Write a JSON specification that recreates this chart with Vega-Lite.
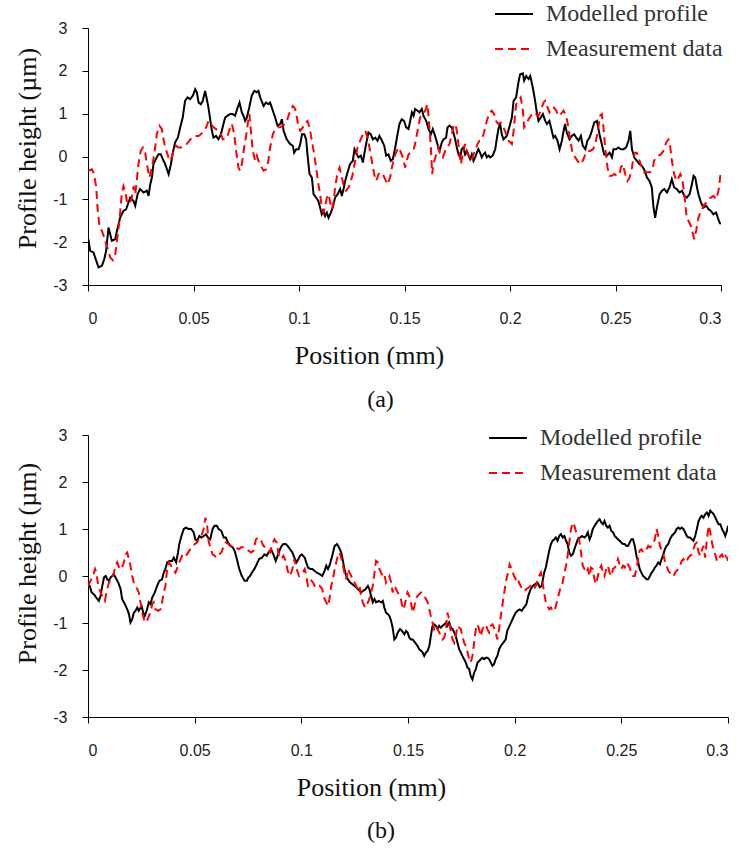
{
  "$schema": "https://vega.github.io/schema/vega-lite/v6.json",
  "padding": {"left": 14, "top": -6, "right": 5, "bottom": 5},
  "config": {
    "view": {"stroke": null},
    "axis": {"grid": false, "domainColor": "#000", "tickColor": "#000", "domainWidth": 1, "tickWidth": 1, "tickSize": 6,
      "labelFont": "Liberation Sans", "labelFontSize": 16, "labelColor": "#222",
      "titleFont": "Liberation Serif", "titleFontSize": 26, "titleFontWeight": "normal", "titleColor": "#111"},
    "legend": {"labelLimit": 0},
    "title": {"font": "Liberation Serif", "fontSize": 24, "fontWeight": "normal", "color": "#111"}
  },
  "spacing": 6,
  "datasets": {
    "aM": [{"x":0.0002,"y":-1.93},{"x":0.001,"y":-2.2},{"x":0.0026,"y":-2.24},{"x":0.0034,"y":-2.36},{"x":0.005,"y":-2.59},{"x":0.0066,"y":-2.55},{"x":0.0077,"y":-2.4},{"x":0.0086,"y":-2.2},{"x":0.0097,"y":-1.66},{"x":0.0105,"y":-1.81},{"x":0.0113,"y":-1.97},{"x":0.0129,"y":-1.93},{"x":0.0137,"y":-1.74},{"x":0.0152,"y":-1.43},{"x":0.0168,"y":-1.27},{"x":0.0181,"y":-1.23},{"x":0.0192,"y":-1.07},{"x":0.02,"y":-0.96},{"x":0.0216,"y":-1.04},{"x":0.0224,"y":-1.15},{"x":0.0235,"y":-0.88},{"x":0.0247,"y":-0.76},{"x":0.0263,"y":-0.84},{"x":0.0279,"y":-0.8},{"x":0.0287,"y":-0.92},{"x":0.0295,"y":-0.65},{"x":0.0303,"y":-0.49},{"x":0.031,"y":-0.18},{"x":0.0318,"y":-0.1},{"x":0.0326,"y":-0.02},{"x":0.0334,"y":0.05},{"x":0.0345,"y":0.05},{"x":0.0358,"y":-0.1},{"x":0.0366,"y":-0.18},{"x":0.0382,"y":-0.41},{"x":0.0393,"y":-0.18},{"x":0.0402,"y":0.09},{"x":0.0413,"y":0.33},{"x":0.0426,"y":0.44},{"x":0.0437,"y":0.68},{"x":0.0449,"y":0.91},{"x":0.046,"y":1.3},{"x":0.0472,"y":1.38},{"x":0.0484,"y":1.34},{"x":0.0497,"y":1.42},{"x":0.0508,"y":1.57},{"x":0.0516,"y":1.5},{"x":0.0524,"y":1.26},{"x":0.0535,"y":1.22},{"x":0.0544,"y":1.3},{"x":0.0555,"y":1.53},{"x":0.0563,"y":1.34},{"x":0.0571,"y":1.14},{"x":0.0587,"y":0.6},{"x":0.0595,"y":0.44},{"x":0.0607,"y":0.48},{"x":0.0618,"y":0.4},{"x":0.063,"y":0.52},{"x":0.0642,"y":0.76},{"x":0.065,"y":0.91},{"x":0.0661,"y":0.95},{"x":0.0674,"y":0.99},{"x":0.0686,"y":0.99},{"x":0.0697,"y":0.95},{"x":0.0709,"y":1.14},{"x":0.0718,"y":1.26},{"x":0.0729,"y":1.03},{"x":0.0737,"y":0.95},{"x":0.0745,"y":0.83},{"x":0.0753,"y":0.91},{"x":0.0764,"y":1.14},{"x":0.0776,"y":1.42},{"x":0.0788,"y":1.53},{"x":0.08,"y":1.5},{"x":0.0808,"y":1.53},{"x":0.0816,"y":1.38},{"x":0.0832,"y":1.18},{"x":0.0844,"y":1.26},{"x":0.0855,"y":1.22},{"x":0.0863,"y":1.26},{"x":0.0876,"y":1.07},{"x":0.0887,"y":0.91},{"x":0.0898,"y":0.72},{"x":0.0911,"y":0.76},{"x":0.0919,"y":0.87},{"x":0.0927,"y":0.6},{"x":0.0942,"y":0.4},{"x":0.0958,"y":0.29},{"x":0.0971,"y":0.25},{"x":0.0977,"y":0.09},{"x":0.0987,"y":0.17},{"x":0.0998,"y":0.17},{"x":0.1006,"y":0.29},{"x":0.1014,"y":0.52},{"x":0.1025,"y":0.52},{"x":0.1034,"y":0.4},{"x":0.104,"y":0.05},{"x":0.105,"y":-0.41},{"x":0.1061,"y":-0.49},{"x":0.1069,"y":-0.88},{"x":0.1081,"y":-0.96},{"x":0.1092,"y":-1.04},{"x":0.11,"y":-1.19},{"x":0.1108,"y":-1.35},{"x":0.1116,"y":-1.27},{"x":0.1124,"y":-1.39},{"x":0.1132,"y":-1.31},{"x":0.114,"y":-1.43},{"x":0.1151,"y":-1.31},{"x":0.116,"y":-1.19},{"x":0.1171,"y":-0.96},{"x":0.1183,"y":-0.88},{"x":0.1195,"y":-0.76},{"x":0.1203,"y":-0.92},{"x":0.1211,"y":-0.76},{"x":0.1219,"y":-0.57},{"x":0.123,"y":-0.37},{"x":0.1242,"y":-0.18},{"x":0.1255,"y":-0.1},{"x":0.1263,"y":0.17},{"x":0.1274,"y":0.05},{"x":0.1282,"y":-0.02},{"x":0.1293,"y":0.02},{"x":0.1303,"y":-0.14},{"x":0.1309,"y":0.05},{"x":0.1318,"y":0.29},{"x":0.1329,"y":0.56},{"x":0.134,"y":0.52},{"x":0.135,"y":0.4},{"x":0.1361,"y":0.44},{"x":0.1372,"y":0.37},{"x":0.1381,"y":0.48},{"x":0.1393,"y":0.37},{"x":0.1404,"y":0.25},{"x":0.1413,"y":0.02},{"x":0.1424,"y":0.05},{"x":0.1435,"y":-0.1},{"x":0.1445,"y":-0.06},{"x":0.1456,"y":0.21},{"x":0.1467,"y":0.52},{"x":0.1476,"y":0.76},{"x":0.1487,"y":0.87},{"x":0.1498,"y":0.83},{"x":0.1508,"y":0.68},{"x":0.1519,"y":0.64},{"x":0.1527,"y":0.83},{"x":0.1535,"y":1.03},{"x":0.1543,"y":0.95},{"x":0.155,"y":1.11},{"x":0.1562,"y":1.07},{"x":0.1571,"y":1.03},{"x":0.1582,"y":1.11},{"x":0.159,"y":0.95},{"x":0.1603,"y":0.83},{"x":0.1614,"y":0.64},{"x":0.1625,"y":0.52},{"x":0.1634,"y":0.64},{"x":0.1645,"y":0.48},{"x":0.1656,"y":0.29},{"x":0.1666,"y":0.13},{"x":0.1677,"y":0.33},{"x":0.1685,"y":0.4},{"x":0.1697,"y":0.44},{"x":0.1704,"y":0.68},{"x":0.1713,"y":0.72},{"x":0.1724,"y":0.68},{"x":0.1732,"y":0.56},{"x":0.174,"y":0.4},{"x":0.1748,"y":0.21},{"x":0.1756,"y":0.05},{"x":0.1764,"y":-0.02},{"x":0.1771,"y":0.17},{"x":0.1779,"y":0.21},{"x":0.1787,"y":0.05},{"x":0.1795,"y":0.13},{"x":0.1803,"y":0.02},{"x":0.1811,"y":-0.06},{"x":0.1819,"y":0.05},{"x":0.1827,"y":-0.1},{"x":0.1835,"y":-0.02},{"x":0.1843,"y":0.09},{"x":0.185,"y":0.17},{"x":0.1858,"y":0.09},{"x":0.1866,"y":-0.02},{"x":0.1874,"y":0.05},{"x":0.1882,"y":0.09},{"x":0.189,"y":-0.02},{"x":0.1898,"y":0.02},{"x":0.1906,"y":-0.02},{"x":0.1918,"y":0.02},{"x":0.193,"y":0.17},{"x":0.1937,"y":0.4},{"x":0.1945,"y":0.64},{"x":0.1953,"y":0.76},{"x":0.1961,"y":0.52},{"x":0.1969,"y":0.4},{"x":0.1985,"y":0.48},{"x":0.2001,"y":0.76},{"x":0.2009,"y":0.91},{"x":0.2017,"y":1.3},{"x":0.2029,"y":1.38},{"x":0.204,"y":1.73},{"x":0.2048,"y":1.92},{"x":0.2061,"y":1.94},{"x":0.2067,"y":1.77},{"x":0.2077,"y":1.88},{"x":0.2088,"y":1.81},{"x":0.2096,"y":1.88},{"x":0.2108,"y":1.61},{"x":0.2119,"y":1.3},{"x":0.2127,"y":1.03},{"x":0.2135,"y":0.83},{"x":0.2146,"y":0.91},{"x":0.2156,"y":0.99},{"x":0.2167,"y":0.83},{"x":0.2175,"y":0.76},{"x":0.2187,"y":0.83},{"x":0.2198,"y":0.6},{"x":0.2206,"y":0.44},{"x":0.2214,"y":0.48},{"x":0.2225,"y":0.37},{"x":0.2235,"y":0.17},{"x":0.2246,"y":0.37},{"x":0.2254,"y":0.6},{"x":0.2261,"y":0.76},{"x":0.2269,"y":0.56},{"x":0.2282,"y":0.4},{"x":0.2293,"y":0.48},{"x":0.2304,"y":0.52},{"x":0.2314,"y":0.44},{"x":0.2325,"y":0.37},{"x":0.2336,"y":0.48},{"x":0.2345,"y":0.25},{"x":0.2357,"y":0.17},{"x":0.2367,"y":0.37},{"x":0.2377,"y":0.44},{"x":0.2388,"y":0.6},{"x":0.2399,"y":0.79},{"x":0.2412,"y":0.83},{"x":0.2424,"y":0.52},{"x":0.2435,"y":0.29},{"x":0.2446,"y":0.05},{"x":0.2459,"y":0.02},{"x":0.2472,"y":0.09},{"x":0.2483,"y":-0.02},{"x":0.249,"y":0.17},{"x":0.2503,"y":0.17},{"x":0.2514,"y":0.21},{"x":0.2525,"y":0.17},{"x":0.2538,"y":0.17},{"x":0.255,"y":0.21},{"x":0.2562,"y":0.37},{"x":0.257,"y":0.6},{"x":0.2578,"y":0.17},{"x":0.2589,"y":-0.02},{"x":0.2601,"y":-0.1},{"x":0.2614,"y":-0.18},{"x":0.2625,"y":-0.22},{"x":0.2636,"y":-0.3},{"x":0.2649,"y":-0.49},{"x":0.2661,"y":-0.57},{"x":0.2672,"y":-0.72},{"x":0.268,"y":-1.19},{"x":0.2688,"y":-1.43},{"x":0.2696,"y":-1.19},{"x":0.2709,"y":-0.88},{"x":0.272,"y":-0.8},{"x":0.2731,"y":-0.76},{"x":0.2744,"y":-0.84},{"x":0.2756,"y":-0.72},{"x":0.2767,"y":-0.53},{"x":0.2778,"y":-0.72},{"x":0.2791,"y":-0.76},{"x":0.2803,"y":-0.84},{"x":0.2815,"y":-0.8},{"x":0.2826,"y":-0.92},{"x":0.2838,"y":-0.96},{"x":0.2851,"y":-0.88},{"x":0.2862,"y":-0.65},{"x":0.287,"y":-0.45},{"x":0.2878,"y":-0.49},{"x":0.2885,"y":-0.69},{"x":0.2893,"y":-0.88},{"x":0.2905,"y":-1.07},{"x":0.2917,"y":-1.19},{"x":0.293,"y":-1.15},{"x":0.2941,"y":-1.23},{"x":0.2952,"y":-1.27},{"x":0.2964,"y":-1.35},{"x":0.2977,"y":-1.31},{"x":0.2985,"y":-1.43},{"x":0.2993,"y":-1.54},{"x":0.2999,"y":-1.58}],
    "aD": [{"x":0.0002,"y":-0.33},{"x":0.0018,"y":-0.3},{"x":0.0029,"y":-0.41},{"x":0.0039,"y":-0.72},{"x":0.0045,"y":-1.19},{"x":0.0055,"y":-1.66},{"x":0.0066,"y":-1.74},{"x":0.0077,"y":-1.89},{"x":0.0086,"y":-2.05},{"x":0.0097,"y":-2.2},{"x":0.0105,"y":-2.36},{"x":0.0118,"y":-2.42},{"x":0.0129,"y":-2.28},{"x":0.0137,"y":-1.97},{"x":0.0149,"y":-1.5},{"x":0.016,"y":-0.88},{"x":0.0168,"y":-0.69},{"x":0.0176,"y":-0.8},{"x":0.0184,"y":-1.04},{"x":0.0197,"y":-1.11},{"x":0.0208,"y":-0.96},{"x":0.0216,"y":-0.69},{"x":0.0224,"y":-0.88},{"x":0.0231,"y":-0.57},{"x":0.0239,"y":-0.18},{"x":0.025,"y":0.13},{"x":0.026,"y":0.21},{"x":0.0271,"y":0.09},{"x":0.0279,"y":-0.18},{"x":0.0291,"y":-0.49},{"x":0.0303,"y":-0.26},{"x":0.0314,"y":0.05},{"x":0.0326,"y":0.52},{"x":0.0339,"y":0.72},{"x":0.035,"y":0.64},{"x":0.0358,"y":0.4},{"x":0.0366,"y":0.21},{"x":0.0377,"y":0.05},{"x":0.0386,"y":-0.1},{"x":0.0397,"y":-0.02},{"x":0.0405,"y":0.13},{"x":0.0418,"y":0.25},{"x":0.0429,"y":0.21},{"x":0.044,"y":0.21},{"x":0.0453,"y":0.25},{"x":0.0468,"y":0.29},{"x":0.0481,"y":0.37},{"x":0.0492,"y":0.44},{"x":0.0508,"y":0.48},{"x":0.0524,"y":0.48},{"x":0.0535,"y":0.52},{"x":0.0547,"y":0.6},{"x":0.056,"y":0.68},{"x":0.0571,"y":0.83},{"x":0.0582,"y":0.76},{"x":0.0595,"y":0.68},{"x":0.0607,"y":0.64},{"x":0.0618,"y":0.6},{"x":0.063,"y":0.52},{"x":0.0639,"y":0.4},{"x":0.065,"y":0.4},{"x":0.0661,"y":0.48},{"x":0.0674,"y":0.68},{"x":0.0682,"y":0.76},{"x":0.0693,"y":0.52},{"x":0.0702,"y":0.13},{"x":0.0713,"y":-0.26},{"x":0.0721,"y":-0.33},{"x":0.0729,"y":-0.18},{"x":0.074,"y":0.21},{"x":0.0753,"y":0.6},{"x":0.0761,"y":0.91},{"x":0.0765,"y":0.99},{"x":0.0772,"y":0.6},{"x":0.0781,"y":0.13},{"x":0.0792,"y":-0.1},{"x":0.08,"y":0.02},{"x":0.0808,"y":-0.1},{"x":0.0816,"y":-0.18},{"x":0.0824,"y":-0.26},{"x":0.0832,"y":-0.33},{"x":0.0844,"y":-0.3},{"x":0.0855,"y":-0.1},{"x":0.0863,"y":0.21},{"x":0.0876,"y":0.52},{"x":0.0887,"y":0.64},{"x":0.0898,"y":0.68},{"x":0.0911,"y":0.68},{"x":0.0923,"y":0.72},{"x":0.0934,"y":0.76},{"x":0.0945,"y":0.87},{"x":0.0958,"y":1.07},{"x":0.0971,"y":1.18},{"x":0.0982,"y":1.11},{"x":0.099,"y":0.91},{"x":0.0998,"y":0.68},{"x":0.1006,"y":0.6},{"x":0.1018,"y":0.68},{"x":0.1029,"y":0.79},{"x":0.104,"y":0.83},{"x":0.105,"y":0.68},{"x":0.1061,"y":0.37},{"x":0.1072,"y":0.05},{"x":0.1081,"y":-0.26},{"x":0.1092,"y":-0.65},{"x":0.11,"y":-0.88},{"x":0.1108,"y":-1.19},{"x":0.1116,"y":-1.31},{"x":0.1124,"y":-1.15},{"x":0.1132,"y":-0.96},{"x":0.114,"y":-0.88},{"x":0.1148,"y":-1.07},{"x":0.1156,"y":-1.23},{"x":0.1164,"y":-1.07},{"x":0.1171,"y":-0.72},{"x":0.1183,"y":-0.37},{"x":0.1192,"y":-0.26},{"x":0.1203,"y":-0.49},{"x":0.1214,"y":-0.72},{"x":0.1223,"y":-0.8},{"x":0.1235,"y":-0.72},{"x":0.1246,"y":-0.57},{"x":0.1255,"y":-0.41},{"x":0.1266,"y":-0.1},{"x":0.1277,"y":0.21},{"x":0.129,"y":0.37},{"x":0.1303,"y":0.52},{"x":0.1314,"y":0.6},{"x":0.1322,"y":0.48},{"x":0.1334,"y":0.21},{"x":0.1345,"y":-0.1},{"x":0.1356,"y":-0.41},{"x":0.1366,"y":-0.57},{"x":0.1377,"y":-0.41},{"x":0.1388,"y":-0.37},{"x":0.1397,"y":-0.41},{"x":0.1408,"y":-0.53},{"x":0.1419,"y":-0.65},{"x":0.1432,"y":-0.49},{"x":0.144,"y":-0.26},{"x":0.1451,"y":-0.02},{"x":0.146,"y":0.09},{"x":0.1472,"y":0.21},{"x":0.148,"y":0.13},{"x":0.1492,"y":-0.02},{"x":0.1503,"y":-0.26},{"x":0.1511,"y":-0.1},{"x":0.1519,"y":0.05},{"x":0.153,"y":0.09},{"x":0.1543,"y":0.17},{"x":0.155,"y":0.29},{"x":0.1562,"y":0.6},{"x":0.1574,"y":0.91},{"x":0.1587,"y":0.99},{"x":0.1598,"y":1.07},{"x":0.1609,"y":1.22},{"x":0.1618,"y":0.68},{"x":0.1625,"y":0.21},{"x":0.1631,"y":-0.41},{"x":0.1637,"y":-0.18},{"x":0.165,"y":0.05},{"x":0.1661,"y":0.21},{"x":0.1669,"y":0.05},{"x":0.1682,"y":-0.02},{"x":0.1693,"y":0.13},{"x":0.1701,"y":0.21},{"x":0.1713,"y":0.29},{"x":0.1724,"y":0.52},{"x":0.1735,"y":0.76},{"x":0.1745,"y":0.68},{"x":0.1751,"y":0.48},{"x":0.1761,"y":0.05},{"x":0.1767,"y":-0.18},{"x":0.1776,"y":0.05},{"x":0.1787,"y":0.29},{"x":0.1795,"y":0.13},{"x":0.1808,"y":-0.02},{"x":0.1819,"y":-0.1},{"x":0.1827,"y":0.05},{"x":0.184,"y":0.21},{"x":0.1846,"y":0.29},{"x":0.1855,"y":0.37},{"x":0.1866,"y":0.4},{"x":0.1877,"y":0.56},{"x":0.189,"y":0.83},{"x":0.1903,"y":1.03},{"x":0.1914,"y":1.07},{"x":0.1925,"y":0.99},{"x":0.1934,"y":0.83},{"x":0.1945,"y":0.76},{"x":0.1956,"y":0.79},{"x":0.1969,"y":0.68},{"x":0.1982,"y":0.52},{"x":0.1993,"y":0.37},{"x":0.2009,"y":0.29},{"x":0.2017,"y":0.6},{"x":0.2029,"y":1.22},{"x":0.204,"y":1.3},{"x":0.2051,"y":1.38},{"x":0.2061,"y":1.07},{"x":0.2067,"y":0.68},{"x":0.2077,"y":0.76},{"x":0.2088,"y":0.87},{"x":0.2099,"y":0.95},{"x":0.2111,"y":1.03},{"x":0.2124,"y":0.99},{"x":0.2135,"y":0.95},{"x":0.2146,"y":1.07},{"x":0.2159,"y":1.26},{"x":0.2167,"y":1.3},{"x":0.2175,"y":1.18},{"x":0.2187,"y":1.03},{"x":0.2198,"y":1.14},{"x":0.2209,"y":1.14},{"x":0.2219,"y":1.07},{"x":0.223,"y":0.95},{"x":0.2241,"y":0.99},{"x":0.2254,"y":1.07},{"x":0.2266,"y":0.95},{"x":0.2277,"y":0.68},{"x":0.2285,"y":0.37},{"x":0.2298,"y":0.05},{"x":0.2309,"y":-0.02},{"x":0.232,"y":-0.1},{"x":0.2333,"y":-0.18},{"x":0.2345,"y":-0.1},{"x":0.2357,"y":0.05},{"x":0.2367,"y":0.13},{"x":0.238,"y":0.13},{"x":0.2393,"y":0.17},{"x":0.2404,"y":0.29},{"x":0.2415,"y":0.56},{"x":0.2427,"y":0.95},{"x":0.2435,"y":0.99},{"x":0.2443,"y":0.68},{"x":0.2451,"y":0.21},{"x":0.2462,"y":-0.26},{"x":0.2472,"y":-0.45},{"x":0.2483,"y":-0.45},{"x":0.2494,"y":-0.41},{"x":0.2506,"y":-0.45},{"x":0.2519,"y":-0.41},{"x":0.2525,"y":-0.26},{"x":0.2535,"y":-0.18},{"x":0.2546,"y":-0.41},{"x":0.2557,"y":-0.57},{"x":0.2567,"y":-0.49},{"x":0.2578,"y":-0.26},{"x":0.2585,"y":-0.02},{"x":0.2593,"y":0.09},{"x":0.2601,"y":0.09},{"x":0.2614,"y":-0.1},{"x":0.2625,"y":-0.26},{"x":0.2636,"y":-0.37},{"x":0.2649,"y":-0.37},{"x":0.2664,"y":-0.37},{"x":0.2677,"y":-0.26},{"x":0.2683,"y":-0.1},{"x":0.2693,"y":-0.02},{"x":0.2704,"y":0.02},{"x":0.2715,"y":0.05},{"x":0.2727,"y":0.13},{"x":0.274,"y":0.33},{"x":0.2751,"y":0.4},{"x":0.2759,"y":0.25},{"x":0.2767,"y":-0.1},{"x":0.2778,"y":-0.41},{"x":0.2788,"y":-0.57},{"x":0.2799,"y":-0.49},{"x":0.2807,"y":-0.41},{"x":0.2815,"y":-0.49},{"x":0.2823,"y":-0.76},{"x":0.2831,"y":-1.11},{"x":0.2838,"y":-1.46},{"x":0.2846,"y":-1.5},{"x":0.2857,"y":-1.62},{"x":0.2867,"y":-1.81},{"x":0.2873,"y":-1.93},{"x":0.2882,"y":-1.74},{"x":0.2893,"y":-1.43},{"x":0.2905,"y":-1.27},{"x":0.2917,"y":-1.15},{"x":0.293,"y":-1.07},{"x":0.2941,"y":-0.99},{"x":0.2952,"y":-0.96},{"x":0.2964,"y":-0.92},{"x":0.2977,"y":-1.0},{"x":0.2988,"y":-0.8},{"x":0.2996,"y":-0.49},{"x":0.2999,"y":-0.33}],
    "bM": [{"x":0,"y":-0.18},{"x":0.0008,"y":-0.21},{"x":0.0017,"y":-0.35},{"x":0.0028,"y":-0.39},{"x":0.0039,"y":-0.46},{"x":0.0051,"y":-0.53},{"x":0.0059,"y":-0.42},{"x":0.0067,"y":-0.21},{"x":0.0075,"y":-0.03},{"x":0.0083,"y":0.0},{"x":0.009,"y":-0.07},{"x":0.0098,"y":-0.1},{"x":0.0106,"y":-0.03},{"x":0.0114,"y":0.0},{"x":0.0121,"y":0.04},{"x":0.0129,"y":-0.03},{"x":0.0142,"y":-0.14},{"x":0.0153,"y":-0.28},{"x":0.016,"y":-0.49},{"x":0.0173,"y":-0.6},{"x":0.0184,"y":-0.71},{"x":0.0192,"y":-0.81},{"x":0.0199,"y":-0.99},{"x":0.0207,"y":-0.92},{"x":0.0215,"y":-0.78},{"x":0.0223,"y":-0.74},{"x":0.0231,"y":-0.67},{"x":0.0238,"y":-0.74},{"x":0.0251,"y":-0.64},{"x":0.0259,"y":-0.78},{"x":0.0266,"y":-0.85},{"x":0.0277,"y":-0.71},{"x":0.0285,"y":-0.56},{"x":0.0293,"y":-0.6},{"x":0.0301,"y":-0.46},{"x":0.0313,"y":-0.35},{"x":0.0324,"y":-0.21},{"x":0.0335,"y":-0.1},{"x":0.0347,"y":-0.07},{"x":0.0355,"y":0.07},{"x":0.0363,"y":0.15},{"x":0.0371,"y":0.29},{"x":0.0382,"y":0.32},{"x":0.0394,"y":0.32},{"x":0.0402,"y":0.39},{"x":0.0413,"y":0.29},{"x":0.0422,"y":0.5},{"x":0.0428,"y":0.68},{"x":0.0438,"y":0.85},{"x":0.0449,"y":1.0},{"x":0.0459,"y":1.03},{"x":0.0472,"y":1.0},{"x":0.0484,"y":1.0},{"x":0.0495,"y":0.93},{"x":0.0503,"y":0.78},{"x":0.0511,"y":0.75},{"x":0.0522,"y":0.85},{"x":0.0531,"y":0.82},{"x":0.0542,"y":0.85},{"x":0.0553,"y":0.89},{"x":0.0562,"y":0.82},{"x":0.0573,"y":0.78},{"x":0.0584,"y":1.0},{"x":0.0593,"y":1.07},{"x":0.0604,"y":1.07},{"x":0.0612,"y":1.0},{"x":0.0625,"y":0.96},{"x":0.0636,"y":0.82},{"x":0.0646,"y":0.82},{"x":0.0656,"y":0.71},{"x":0.0667,"y":0.64},{"x":0.0678,"y":0.61},{"x":0.0687,"y":0.54},{"x":0.0698,"y":0.36},{"x":0.0709,"y":0.15},{"x":0.0721,"y":0.0},{"x":0.0734,"y":-0.1},{"x":0.0745,"y":-0.1},{"x":0.0752,"y":-0.03},{"x":0.076,"y":0.0},{"x":0.0768,"y":0.07},{"x":0.078,"y":0.15},{"x":0.0791,"y":0.25},{"x":0.0802,"y":0.36},{"x":0.0815,"y":0.39},{"x":0.0827,"y":0.46},{"x":0.0838,"y":0.43},{"x":0.0846,"y":0.5},{"x":0.0858,"y":0.57},{"x":0.0869,"y":0.46},{"x":0.088,"y":0.32},{"x":0.0889,"y":0.43},{"x":0.09,"y":0.57},{"x":0.0908,"y":0.64},{"x":0.0916,"y":0.68},{"x":0.0927,"y":0.68},{"x":0.0936,"y":0.64},{"x":0.0947,"y":0.57},{"x":0.0958,"y":0.5},{"x":0.097,"y":0.36},{"x":0.0978,"y":0.29},{"x":0.0986,"y":0.36},{"x":0.0994,"y":0.43},{"x":0.1002,"y":0.46},{"x":0.1016,"y":0.39},{"x":0.1023,"y":0.29},{"x":0.1031,"y":0.18},{"x":0.1042,"y":0.15},{"x":0.1051,"y":0.15},{"x":0.1062,"y":0.11},{"x":0.1073,"y":0.07},{"x":0.1086,"y":0.04},{"x":0.1098,"y":0.0},{"x":0.1109,"y":0.11},{"x":0.1117,"y":0.22},{"x":0.1125,"y":0.15},{"x":0.1132,"y":0.22},{"x":0.1145,"y":0.43},{"x":0.1156,"y":0.64},{"x":0.1167,"y":0.68},{"x":0.1176,"y":0.61},{"x":0.1187,"y":0.5},{"x":0.1195,"y":0.32},{"x":0.1202,"y":0.15},{"x":0.121,"y":0.0},{"x":0.1218,"y":-0.07},{"x":0.1229,"y":-0.14},{"x":0.1238,"y":-0.17},{"x":0.1249,"y":-0.21},{"x":0.1257,"y":-0.24},{"x":0.1265,"y":-0.28},{"x":0.1273,"y":-0.31},{"x":0.128,"y":-0.35},{"x":0.1291,"y":-0.31},{"x":0.1301,"y":-0.28},{"x":0.1312,"y":-0.21},{"x":0.1319,"y":-0.28},{"x":0.1327,"y":-0.42},{"x":0.1335,"y":-0.56},{"x":0.1343,"y":-0.49},{"x":0.135,"y":-0.56},{"x":0.1363,"y":-0.53},{"x":0.1374,"y":-0.56},{"x":0.1382,"y":-0.53},{"x":0.1389,"y":-0.67},{"x":0.1397,"y":-0.78},{"x":0.1405,"y":-0.81},{"x":0.1413,"y":-0.85},{"x":0.1421,"y":-0.96},{"x":0.1428,"y":-1.1},{"x":0.1436,"y":-1.35},{"x":0.1444,"y":-1.31},{"x":0.1452,"y":-1.2},{"x":0.1463,"y":-1.13},{"x":0.1472,"y":-1.17},{"x":0.1483,"y":-1.24},{"x":0.1491,"y":-1.17},{"x":0.1498,"y":-1.2},{"x":0.1506,"y":-1.31},{"x":0.1514,"y":-1.35},{"x":0.1522,"y":-1.35},{"x":0.1534,"y":-1.42},{"x":0.1545,"y":-1.49},{"x":0.1553,"y":-1.56},{"x":0.1561,"y":-1.59},{"x":0.1569,"y":-1.63},{"x":0.1576,"y":-1.7},{"x":0.1584,"y":-1.63},{"x":0.1592,"y":-1.59},{"x":0.16,"y":-1.49},{"x":0.1607,"y":-1.28},{"x":0.1615,"y":-1.06},{"x":0.1623,"y":-1.03},{"x":0.1631,"y":-1.06},{"x":0.1639,"y":-1.13},{"x":0.1646,"y":-1.06},{"x":0.1654,"y":-1.1},{"x":0.1662,"y":-1.06},{"x":0.167,"y":-1.03},{"x":0.1678,"y":-0.99},{"x":0.1685,"y":-1.06},{"x":0.1693,"y":-0.99},{"x":0.1701,"y":-1.1},{"x":0.1709,"y":-1.13},{"x":0.1717,"y":-1.2},{"x":0.1724,"y":-1.28},{"x":0.1732,"y":-1.42},{"x":0.174,"y":-1.56},{"x":0.1748,"y":-1.63},{"x":0.1755,"y":-1.7},{"x":0.1763,"y":-1.77},{"x":0.1771,"y":-1.84},{"x":0.1779,"y":-1.95},{"x":0.1787,"y":-1.98},{"x":0.1794,"y":-2.13},{"x":0.1802,"y":-2.2},{"x":0.181,"y":-2.06},{"x":0.1818,"y":-1.98},{"x":0.1826,"y":-1.84},{"x":0.1833,"y":-1.81},{"x":0.1841,"y":-1.77},{"x":0.1849,"y":-1.74},{"x":0.1857,"y":-1.77},{"x":0.1864,"y":-1.74},{"x":0.1872,"y":-1.74},{"x":0.188,"y":-1.77},{"x":0.1888,"y":-1.84},{"x":0.1896,"y":-1.91},{"x":0.1903,"y":-1.88},{"x":0.1911,"y":-1.77},{"x":0.1919,"y":-1.7},{"x":0.1927,"y":-1.56},{"x":0.1935,"y":-1.49},{"x":0.1958,"y":-1.35},{"x":0.1965,"y":-1.17},{"x":0.1976,"y":-1.06},{"x":0.1986,"y":-0.96},{"x":0.1997,"y":-0.85},{"x":0.2005,"y":-0.78},{"x":0.2013,"y":-0.74},{"x":0.2024,"y":-0.71},{"x":0.2033,"y":-0.74},{"x":0.2044,"y":-0.67},{"x":0.2055,"y":-0.6},{"x":0.2064,"y":-0.42},{"x":0.2075,"y":-0.28},{"x":0.2086,"y":-0.21},{"x":0.2096,"y":-0.17},{"x":0.2107,"y":-0.14},{"x":0.2118,"y":-0.24},{"x":0.2127,"y":-0.21},{"x":0.2138,"y":0.07},{"x":0.2146,"y":0.18},{"x":0.2154,"y":0.36},{"x":0.2162,"y":0.54},{"x":0.217,"y":0.68},{"x":0.2178,"y":0.75},{"x":0.2186,"y":0.78},{"x":0.2193,"y":0.82},{"x":0.2201,"y":0.75},{"x":0.2209,"y":0.85},{"x":0.2217,"y":0.89},{"x":0.2225,"y":0.82},{"x":0.2233,"y":0.85},{"x":0.2241,"y":0.75},{"x":0.2248,"y":0.68},{"x":0.2256,"y":0.5},{"x":0.2264,"y":0.43},{"x":0.2272,"y":0.46},{"x":0.228,"y":0.57},{"x":0.2288,"y":0.68},{"x":0.2296,"y":0.78},{"x":0.2307,"y":0.82},{"x":0.2316,"y":0.85},{"x":0.2327,"y":0.82},{"x":0.2335,"y":0.85},{"x":0.2343,"y":0.93},{"x":0.2351,"y":0.78},{"x":0.2358,"y":0.85},{"x":0.2366,"y":1.0},{"x":0.2379,"y":1.1},{"x":0.239,"y":1.17},{"x":0.2398,"y":1.21},{"x":0.2406,"y":1.14},{"x":0.2414,"y":1.1},{"x":0.2421,"y":1.17},{"x":0.2429,"y":1.07},{"x":0.2437,"y":1.03},{"x":0.2445,"y":1.07},{"x":0.2453,"y":0.96},{"x":0.2461,"y":0.93},{"x":0.2469,"y":0.85},{"x":0.2476,"y":0.82},{"x":0.2484,"y":0.78},{"x":0.2492,"y":0.75},{"x":0.25,"y":0.71},{"x":0.2508,"y":0.68},{"x":0.2516,"y":0.68},{"x":0.2524,"y":0.64},{"x":0.2531,"y":0.64},{"x":0.2539,"y":0.71},{"x":0.2547,"y":0.78},{"x":0.2555,"y":0.78},{"x":0.2563,"y":0.64},{"x":0.2571,"y":0.43},{"x":0.2579,"y":0.29},{"x":0.2586,"y":0.15},{"x":0.2594,"y":0.07},{"x":0.2602,"y":0.0},{"x":0.261,"y":-0.03},{"x":0.2618,"y":-0.07},{"x":0.2626,"y":-0.07},{"x":0.2634,"y":0.0},{"x":0.2642,"y":0.07},{"x":0.2649,"y":0.11},{"x":0.2657,"y":0.18},{"x":0.2665,"y":0.22},{"x":0.2673,"y":0.29},{"x":0.2681,"y":0.25},{"x":0.2689,"y":0.36},{"x":0.2697,"y":0.46},{"x":0.2704,"y":0.57},{"x":0.2712,"y":0.64},{"x":0.272,"y":0.68},{"x":0.2728,"y":0.78},{"x":0.2736,"y":0.85},{"x":0.2744,"y":0.89},{"x":0.2752,"y":0.93},{"x":0.2759,"y":1.0},{"x":0.2767,"y":1.03},{"x":0.2775,"y":1.0},{"x":0.2783,"y":1.03},{"x":0.2791,"y":1.0},{"x":0.2799,"y":0.93},{"x":0.2807,"y":0.85},{"x":0.2814,"y":0.82},{"x":0.2822,"y":0.82},{"x":0.283,"y":0.78},{"x":0.2838,"y":0.75},{"x":0.2846,"y":0.85},{"x":0.2854,"y":1.0},{"x":0.2862,"y":1.17},{"x":0.287,"y":1.24},{"x":0.2877,"y":1.28},{"x":0.2885,"y":1.24},{"x":0.2893,"y":1.31},{"x":0.2901,"y":1.35},{"x":0.2909,"y":1.28},{"x":0.2917,"y":1.39},{"x":0.2925,"y":1.35},{"x":0.2932,"y":1.32},{"x":0.294,"y":1.25},{"x":0.2948,"y":1.17},{"x":0.2956,"y":1.1},{"x":0.2964,"y":1.1},{"x":0.2972,"y":1.0},{"x":0.298,"y":0.93},{"x":0.2987,"y":0.85},{"x":0.2995,"y":0.96},{"x":0.3,"y":1.07}],
    "bD": [{"x":0,"y":-0.21},{"x":0.0012,"y":-0.1},{"x":0.0023,"y":0.0},{"x":0.0033,"y":0.15},{"x":0.0039,"y":0.07},{"x":0.0048,"y":-0.21},{"x":0.0059,"y":-0.35},{"x":0.007,"y":-0.46},{"x":0.0079,"y":-0.53},{"x":0.009,"y":-0.28},{"x":0.0098,"y":-0.14},{"x":0.0111,"y":-0.07},{"x":0.0121,"y":0.07},{"x":0.0129,"y":0.22},{"x":0.0137,"y":0.29},{"x":0.0148,"y":0.15},{"x":0.0157,"y":0.15},{"x":0.0168,"y":0.29},{"x":0.0176,"y":0.46},{"x":0.0184,"y":0.5},{"x":0.0192,"y":0.36},{"x":0.0199,"y":0.22},{"x":0.0207,"y":0.0},{"x":0.0215,"y":-0.14},{"x":0.0223,"y":-0.21},{"x":0.0231,"y":-0.28},{"x":0.0238,"y":-0.35},{"x":0.0246,"y":-0.56},{"x":0.0254,"y":-0.78},{"x":0.0262,"y":-0.92},{"x":0.0269,"y":-0.99},{"x":0.0277,"y":-0.96},{"x":0.0285,"y":-0.85},{"x":0.0293,"y":-0.78},{"x":0.0301,"y":-0.6},{"x":0.0308,"y":-0.56},{"x":0.0316,"y":-0.71},{"x":0.0329,"y":-0.74},{"x":0.034,"y":-0.71},{"x":0.0347,"y":-0.56},{"x":0.0355,"y":-0.35},{"x":0.0363,"y":-0.21},{"x":0.0371,"y":0.15},{"x":0.0379,"y":0.29},{"x":0.0386,"y":0.25},{"x":0.0394,"y":0.18},{"x":0.041,"y":0.07},{"x":0.0417,"y":0.15},{"x":0.0428,"y":0.29},{"x":0.0441,"y":0.43},{"x":0.0453,"y":0.39},{"x":0.0464,"y":0.46},{"x":0.0475,"y":0.54},{"x":0.0488,"y":0.61},{"x":0.05,"y":0.68},{"x":0.0511,"y":0.71},{"x":0.0522,"y":0.82},{"x":0.0531,"y":0.85},{"x":0.0542,"y":1.0},{"x":0.055,"y":1.24},{"x":0.0558,"y":1.1},{"x":0.0565,"y":0.75},{"x":0.0573,"y":0.61},{"x":0.0584,"y":0.46},{"x":0.0593,"y":0.43},{"x":0.0604,"y":0.39},{"x":0.0615,"y":0.46},{"x":0.0625,"y":0.5},{"x":0.0636,"y":0.64},{"x":0.0646,"y":0.71},{"x":0.0659,"y":0.68},{"x":0.0671,"y":0.64},{"x":0.0682,"y":0.61},{"x":0.0693,"y":0.61},{"x":0.0706,"y":0.57},{"x":0.0718,"y":0.61},{"x":0.0729,"y":0.61},{"x":0.074,"y":0.57},{"x":0.0752,"y":0.54},{"x":0.0765,"y":0.5},{"x":0.0776,"y":0.54},{"x":0.0787,"y":0.78},{"x":0.0799,"y":0.82},{"x":0.0812,"y":0.75},{"x":0.0822,"y":0.64},{"x":0.0833,"y":0.61},{"x":0.0843,"y":0.54},{"x":0.0854,"y":0.5},{"x":0.0864,"y":0.68},{"x":0.0874,"y":0.78},{"x":0.0885,"y":0.71},{"x":0.0893,"y":0.46},{"x":0.0905,"y":0.36},{"x":0.0916,"y":0.43},{"x":0.0927,"y":0.32},{"x":0.0936,"y":0.11},{"x":0.0947,"y":0.0},{"x":0.0958,"y":0.15},{"x":0.0967,"y":0.36},{"x":0.0978,"y":0.15},{"x":0.0989,"y":0.0},{"x":0.1002,"y":0.04},{"x":0.1016,"y":0.15},{"x":0.1023,"y":0.0},{"x":0.1031,"y":-0.21},{"x":0.1039,"y":-0.17},{"x":0.1047,"y":-0.1},{"x":0.1055,"y":-0.14},{"x":0.1062,"y":-0.21},{"x":0.1073,"y":-0.25},{"x":0.1086,"y":-0.21},{"x":0.1098,"y":-0.28},{"x":0.1109,"y":-0.49},{"x":0.1117,"y":-0.56},{"x":0.1125,"y":-0.64},{"x":0.1132,"y":-0.49},{"x":0.114,"y":-0.21},{"x":0.1148,"y":-0.07},{"x":0.1156,"y":0.15},{"x":0.1164,"y":0.29},{"x":0.1171,"y":0.43},{"x":0.1179,"y":0.5},{"x":0.1187,"y":0.39},{"x":0.1195,"y":0.22},{"x":0.1202,"y":0.07},{"x":0.121,"y":-0.07},{"x":0.1218,"y":0.15},{"x":0.1226,"y":0.07},{"x":0.1234,"y":0.0},{"x":0.1241,"y":-0.07},{"x":0.1249,"y":-0.14},{"x":0.1257,"y":-0.21},{"x":0.1265,"y":-0.28},{"x":0.1273,"y":-0.21},{"x":0.128,"y":-0.42},{"x":0.1288,"y":-0.56},{"x":0.1296,"y":-0.64},{"x":0.1304,"y":-0.67},{"x":0.1312,"y":-0.56},{"x":0.1319,"y":-0.49},{"x":0.1327,"y":-0.35},{"x":0.1335,"y":-0.21},{"x":0.1343,"y":0.07},{"x":0.135,"y":0.32},{"x":0.1358,"y":0.29},{"x":0.1366,"y":0.15},{"x":0.1374,"y":0.07},{"x":0.1382,"y":0.0},{"x":0.1389,"y":0.04},{"x":0.1397,"y":-0.14},{"x":0.1405,"y":-0.07},{"x":0.1413,"y":0.0},{"x":0.1421,"y":-0.14},{"x":0.1428,"y":-0.35},{"x":0.1436,"y":-0.21},{"x":0.1444,"y":-0.28},{"x":0.1452,"y":-0.35},{"x":0.146,"y":-0.42},{"x":0.1467,"y":-0.49},{"x":0.1475,"y":-0.71},{"x":0.1483,"y":-0.64},{"x":0.1491,"y":-0.49},{"x":0.1498,"y":-0.35},{"x":0.1506,"y":-0.42},{"x":0.1514,"y":-0.56},{"x":0.1522,"y":-0.78},{"x":0.153,"y":-0.64},{"x":0.1537,"y":-0.49},{"x":0.1545,"y":-0.42},{"x":0.1553,"y":-0.39},{"x":0.1561,"y":-0.35},{"x":0.1569,"y":-0.39},{"x":0.1576,"y":-0.42},{"x":0.1584,"y":-0.49},{"x":0.1592,"y":-0.56},{"x":0.16,"y":-0.71},{"x":0.1607,"y":-0.85},{"x":0.1615,"y":-0.99},{"x":0.1623,"y":-1.13},{"x":0.1631,"y":-1.06},{"x":0.1639,"y":-1.13},{"x":0.1646,"y":-1.2},{"x":0.1654,"y":-1.28},{"x":0.1662,"y":-1.35},{"x":0.167,"y":-1.31},{"x":0.1678,"y":-1.13},{"x":0.1685,"y":-0.78},{"x":0.1693,"y":-0.92},{"x":0.1701,"y":-1.2},{"x":0.1709,"y":-1.35},{"x":0.1717,"y":-1.42},{"x":0.1724,"y":-1.28},{"x":0.1732,"y":-1.06},{"x":0.174,"y":-1.1},{"x":0.1748,"y":-1.13},{"x":0.1755,"y":-1.28},{"x":0.1763,"y":-1.42},{"x":0.1771,"y":-1.49},{"x":0.1779,"y":-1.63},{"x":0.1787,"y":-1.77},{"x":0.1794,"y":-1.84},{"x":0.1802,"y":-1.7},{"x":0.181,"y":-1.42},{"x":0.1818,"y":-1.13},{"x":0.1826,"y":-1.03},{"x":0.1833,"y":-1.13},{"x":0.1841,"y":-1.28},{"x":0.1849,"y":-1.13},{"x":0.1857,"y":-1.06},{"x":0.1864,"y":-1.03},{"x":0.1872,"y":-1.13},{"x":0.188,"y":-1.2},{"x":0.1888,"y":-1.06},{"x":0.1896,"y":-1.03},{"x":0.1903,"y":-1.1},{"x":0.1911,"y":-1.2},{"x":0.1919,"y":-1.35},{"x":0.1927,"y":-1.13},{"x":0.1935,"y":-0.85},{"x":0.1958,"y":-0.14},{"x":0.1965,"y":0.0},{"x":0.1973,"y":0.15},{"x":0.1976,"y":0.25},{"x":0.1986,"y":0.15},{"x":0.1997,"y":0.0},{"x":0.2005,"y":-0.07},{"x":0.2013,"y":-0.03},{"x":0.202,"y":-0.14},{"x":0.2028,"y":-0.21},{"x":0.2036,"y":-0.28},{"x":0.2044,"y":-0.32},{"x":0.2055,"y":-0.28},{"x":0.2064,"y":-0.25},{"x":0.2075,"y":-0.21},{"x":0.2083,"y":-0.25},{"x":0.2091,"y":-0.28},{"x":0.2099,"y":-0.21},{"x":0.2107,"y":-0.1},{"x":0.2115,"y":0.0},{"x":0.2123,"y":0.07},{"x":0.2131,"y":-0.14},{"x":0.2138,"y":-0.35},{"x":0.2146,"y":-0.56},{"x":0.2154,"y":-0.64},{"x":0.2162,"y":-0.71},{"x":0.217,"y":-0.67},{"x":0.2178,"y":-0.74},{"x":0.2186,"y":-0.74},{"x":0.2193,"y":-0.64},{"x":0.2201,"y":-0.49},{"x":0.2209,"y":-0.35},{"x":0.2217,"y":-0.21},{"x":0.2225,"y":-0.14},{"x":0.2233,"y":0.07},{"x":0.2241,"y":0.22},{"x":0.2248,"y":0.43},{"x":0.2256,"y":0.71},{"x":0.2264,"y":1.0},{"x":0.2272,"y":1.14},{"x":0.228,"y":1.07},{"x":0.2288,"y":0.93},{"x":0.2296,"y":0.85},{"x":0.2303,"y":0.75},{"x":0.2311,"y":0.5},{"x":0.2319,"y":0.22},{"x":0.2327,"y":0.15},{"x":0.2335,"y":0.07},{"x":0.2343,"y":0.15},{"x":0.2351,"y":0.0},{"x":0.2358,"y":0.18},{"x":0.2366,"y":0.15},{"x":0.2374,"y":-0.07},{"x":0.2382,"y":-0.17},{"x":0.239,"y":0.0},{"x":0.2398,"y":0.15},{"x":0.2406,"y":0.22},{"x":0.2414,"y":0.07},{"x":0.2421,"y":0.0},{"x":0.2429,"y":0.15},{"x":0.2437,"y":0.22},{"x":0.2445,"y":0.07},{"x":0.2453,"y":0.0},{"x":0.2461,"y":0.15},{"x":0.2469,"y":0.18},{"x":0.2476,"y":0.22},{"x":0.2484,"y":0.36},{"x":0.2492,"y":0.25},{"x":0.25,"y":0.15},{"x":0.2508,"y":0.22},{"x":0.2516,"y":0.18},{"x":0.2524,"y":0.29},{"x":0.2531,"y":0.25},{"x":0.2539,"y":0.18},{"x":0.2547,"y":0.07},{"x":0.2555,"y":0.0},{"x":0.2563,"y":0.0},{"x":0.2571,"y":0.15},{"x":0.2579,"y":0.36},{"x":0.2586,"y":0.54},{"x":0.2594,"y":0.57},{"x":0.2602,"y":0.5},{"x":0.261,"y":0.54},{"x":0.2618,"y":0.57},{"x":0.2626,"y":0.64},{"x":0.2634,"y":0.61},{"x":0.2642,"y":0.64},{"x":0.2649,"y":0.68},{"x":0.2657,"y":0.78},{"x":0.2665,"y":1.0},{"x":0.2673,"y":0.85},{"x":0.2681,"y":0.64},{"x":0.2689,"y":0.54},{"x":0.2697,"y":0.46},{"x":0.2704,"y":0.32},{"x":0.2712,"y":0.22},{"x":0.272,"y":0.11},{"x":0.2728,"y":0.07},{"x":0.2736,"y":0.0},{"x":0.2744,"y":0.0},{"x":0.2752,"y":0.07},{"x":0.2759,"y":0.11},{"x":0.2767,"y":0.15},{"x":0.2775,"y":0.22},{"x":0.2783,"y":0.32},{"x":0.2791,"y":0.36},{"x":0.2799,"y":0.29},{"x":0.2807,"y":0.32},{"x":0.2814,"y":0.39},{"x":0.2822,"y":0.43},{"x":0.283,"y":0.46},{"x":0.2838,"y":0.57},{"x":0.2846,"y":0.68},{"x":0.2854,"y":0.71},{"x":0.2862,"y":0.5},{"x":0.287,"y":0.43},{"x":0.2877,"y":0.54},{"x":0.2885,"y":0.64},{"x":0.2893,"y":0.39},{"x":0.2901,"y":0.78},{"x":0.2909,"y":1.07},{"x":0.2917,"y":0.93},{"x":0.2925,"y":0.71},{"x":0.2932,"y":0.57},{"x":0.294,"y":0.46},{"x":0.2948,"y":0.32},{"x":0.2956,"y":0.32},{"x":0.2964,"y":0.43},{"x":0.2972,"y":0.46},{"x":0.298,"y":0.36},{"x":0.2987,"y":0.43},{"x":0.2995,"y":0.39},{"x":0.3,"y":0.32}]
  },
  "vconcat": [
    {
      "width": 633,
      "height": 257,
      "title": {"text": "(a)", "orient": "bottom", "anchor": "middle", "frame": "group", "dx": -24, "offset": 20, "font": "Liberation Serif", "fontSize": 24, "fontWeight": "normal"},
      "layer": [
        {
          "data": {"name": "aM"},
          "mark": {"type": "line", "strokeWidth": 2, "clip": true},
          "encoding": {
            "x": {"field": "x", "type": "quantitative", "scale": {"domain": [0, 0.3], "nice": false},
              "axis": {"values": [0, 0.05, 0.1, 0.15, 0.2, 0.25, 0.3], "format": "~g", "title": "Position (mm)", "titleFont": "Liberation Serif", "titleFontSize": 26, "titleFontWeight": "normal", "labelPadding": 19, "titlePadding": 16, "titleX": 281, "titleAnchor": "middle"}},
            "y": {"field": "y", "type": "quantitative", "scale": {"domain": [-3, 3], "nice": false},
              "axis": {"values": [-3, -2, -1, 0, 1, 2, 3], "labelExpr": "'' + datum.value", "title": "Profile height (µm)", "titleFont": "Liberation Serif", "titleFontSize": 26, "titleFontWeight": "normal", "labelPadding": 15, "titlePadding": 12, "titleY": 120}},
            "color": {"datum": "Modelled profile", "scale": {"domain": ["Modelled profile", "Measurement data"], "range": ["#000000", "#ff0000"]},
              "legend": {"orient": "none", "legendX": 406, "legendY": -34, "title": null, "symbolType": "stroke", "symbolSize": 1444, "symbolStrokeWidth": 2, "labelFont": "Liberation Serif", "labelFontSize": 24, "labelColor": "#333", "labelOffset": 12, "labelLimit": 0, "rowPadding": 3, "padding": 0}},
            "strokeDash": {"datum": "Modelled profile", "scale": {"domain": ["Modelled profile", "Measurement data"], "range": [[1, 0], [8, 5]]},
              "legend": {"orient": "none", "legendX": 406, "legendY": -34, "title": null, "symbolType": "stroke", "symbolSize": 1444, "symbolStrokeWidth": 2, "labelFont": "Liberation Serif", "labelFontSize": 24, "labelColor": "#333", "labelOffset": 12, "labelLimit": 0, "rowPadding": 3, "padding": 0}}
          }
        },
        {
          "data": {"name": "aD"},
          "mark": {"type": "line", "strokeWidth": 2, "clip": true},
          "encoding": {
            "x": {"field": "x", "type": "quantitative"},
            "y": {"field": "y", "type": "quantitative"},
            "color": {"datum": "Measurement data"},
            "strokeDash": {"datum": "Measurement data"}
          }
        }
      ]
    },
    {
      "width": 640,
      "height": 282,
      "title": {"text": "(b)", "orient": "bottom", "anchor": "middle", "frame": "group", "dx": -27, "offset": 19, "font": "Liberation Serif", "fontSize": 24, "fontWeight": "normal"},
      "layer": [
        {
          "data": {"name": "bM"},
          "mark": {"type": "line", "strokeWidth": 2, "clip": true},
          "encoding": {
            "x": {"field": "x", "type": "quantitative", "scale": {"domain": [0, 0.3], "nice": false},
              "axis": {"values": [0, 0.05, 0.1, 0.15, 0.2, 0.25, 0.3], "format": "~g", "title": "Position (mm)", "titleFont": "Liberation Serif", "titleFontSize": 26, "titleFontWeight": "normal", "labelPadding": 19, "titlePadding": 16, "titleX": 283, "titleAnchor": "middle"}},
            "y": {"field": "y", "type": "quantitative", "scale": {"domain": [-3, 3], "nice": false},
              "axis": {"values": [-3, -2, -1, 0, 1, 2, 3], "labelExpr": "'' + datum.value", "title": "Profile height (µm)", "titleFont": "Liberation Serif", "titleFontSize": 26, "titleFontWeight": "normal", "labelPadding": 15, "titlePadding": 12, "titleY": 128}},
            "color": {"datum": "Modelled profile", "scale": {"domain": ["Modelled profile", "Measurement data"], "range": ["#000000", "#ff0000"]},
              "legend": {"orient": "none", "legendX": 400, "legendY": -17, "title": null, "symbolType": "stroke", "symbolSize": 1444, "symbolStrokeWidth": 2, "labelFont": "Liberation Serif", "labelFontSize": 24, "labelColor": "#333", "labelOffset": 12, "labelLimit": 0, "rowPadding": 3, "padding": 0}},
            "strokeDash": {"datum": "Modelled profile", "scale": {"domain": ["Modelled profile", "Measurement data"], "range": [[1, 0], [8, 5]]},
              "legend": {"orient": "none", "legendX": 400, "legendY": -17, "title": null, "symbolType": "stroke", "symbolSize": 1444, "symbolStrokeWidth": 2, "labelFont": "Liberation Serif", "labelFontSize": 24, "labelColor": "#333", "labelOffset": 12, "labelLimit": 0, "rowPadding": 3, "padding": 0}}
          }
        },
        {
          "data": {"name": "bD"},
          "mark": {"type": "line", "strokeWidth": 2, "clip": true},
          "encoding": {
            "x": {"field": "x", "type": "quantitative"},
            "y": {"field": "y", "type": "quantitative"},
            "color": {"datum": "Measurement data"},
            "strokeDash": {"datum": "Measurement data"}
          }
        }
      ]
    }
  ],
  "resolve": {"scale": {"color": "independent", "strokeDash": "independent"}, "legend": {"color": "independent", "strokeDash": "independent"}}
}
